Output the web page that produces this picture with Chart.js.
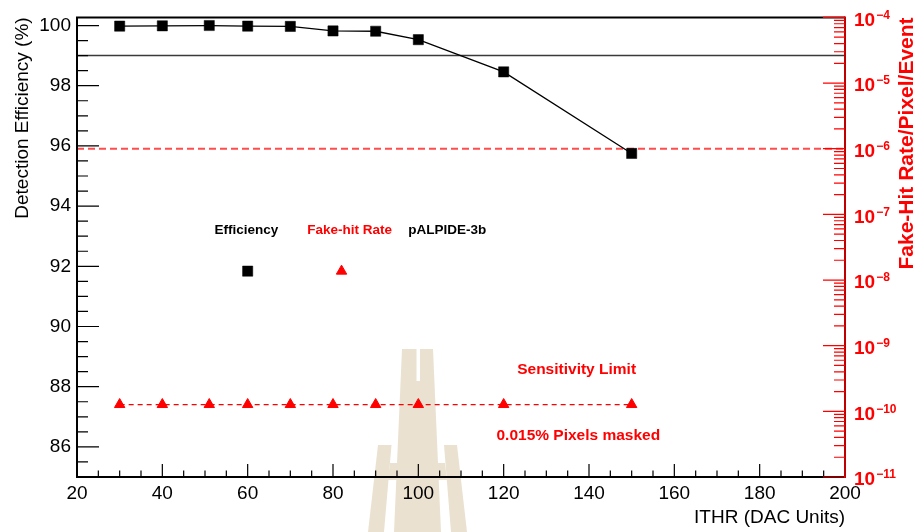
<!DOCTYPE html>
<html>
<head>
<meta charset="utf-8">
<title>pALPIDE-3b efficiency and fake-hit rate vs ITHR</title>
<script src="https://cdn.jsdelivr.net/npm/chart.js@4.4.1/dist/chart.umd.min.js"></script>
<style>
  html, body { margin: 0; padding: 0; background: #fff; }
  #chart { display: block; }
</style>
</head>
<body>
<canvas id="chart" width="919" height="532"></canvas>
<script>
// ITHR settings of the scan (DAC units)
const ithr = [30, 40, 51, 60, 70, 80, 90, 100, 120, 150];
// detection efficiency (%)
const efficiency = [99.98, 99.99, 100.0, 99.98, 99.97, 99.82, 99.81, 99.53, 98.46, 95.75];
// fake-hit rate per pixel per event, every point sits at the sensitivity limit
const fakeHitRate = [1.27e-10, 1.27e-10, 1.27e-10, 1.27e-10, 1.27e-10, 1.27e-10, 1.27e-10, 1.27e-10, 1.27e-10, 1.27e-10];

// axis ticks
const xTicks = [20, 40, 60, 80, 100, 120, 140, 160, 180, 200];
const effTicks = [86, 88, 90, 92, 94, 96, 98, 100];
const rateDecades = [-11, -10, -9, -8, -7, -6, -5, -4];

// reference levels
const effReference = 99;      // 99 % efficiency
const rateReference = 1e-6;   // 1e-6 fake hits / pixel / event

// legend markers (x in DAC units, y in %)
const legendSquare = [{ x: 60, y: 91.84 }];
const legendTriangle = [{ x: 82, y: 91.84 }];

const FONT = '"Liberation Sans", Arial, Helvetica, sans-serif';

// free text placed in data coordinates of x / y
const notes = [
  { text: 'Efficiency', x: 59.7, y: 93.21, color: '#000', size: 13.5 },
  { text: 'Fake-hit Rate', x: 83.9, y: 93.21, color: '#ff0000', size: 13.5 },
  { text: 'pALPIDE-3b', x: 106.8, y: 93.21, color: '#000', size: 13.5 },
  { text: 'Sensitivity Limit', x: 137.1, y: 88.58, color: '#ff0000', size: 15.5 },
  { text: '0.015% Pixels masked', x: 137.5, y: 86.38, color: '#ff0000', size: 15.5 }
];

// faint logo printed behind the plot
function drawWatermark(ctx) {
  ctx.fillStyle = 'rgb(234, 225, 209)';
  const shapes = [
    // central tower with the slit on top
    [[402, 349], [416.5, 349], [416.5, 381], [420, 381], [420, 349], [433, 349], [441, 532], [394, 532]],
    // side pillars
    [[378, 445], [391.5, 445], [384, 532], [368, 532]],
    [[444, 445], [457, 445], [467, 532], [451, 532]],
    // cross bars
    [[390, 463], [403, 463], [401, 480], [388, 480]],
    [[432, 463], [445, 463], [447, 480], [434, 480]]
  ];
  for (const s of shapes) {
    ctx.beginPath();
    ctx.moveTo(s[0][0], s[0][1]);
    for (let i = 1; i < s.length; i++) ctx.lineTo(s[i][0], s[i][1]);
    ctx.closePath();
    ctx.fill();
  }
}

const rootStyle = {
  id: 'rootStyle',
  beforeDraw(chart) {
    const ctx = chart.ctx;
    ctx.save();
    ctx.fillStyle = '#fff';
    ctx.fillRect(0, 0, chart.width, chart.height);
    drawWatermark(ctx);
    ctx.restore();
  },
  afterDraw(chart) {
    const { ctx, chartArea: a, scales: { x, y, y2 } } = chart;
    ctx.save();

    // frame
    ctx.lineWidth = 2;
    ctx.strokeStyle = '#000';
    ctx.beginPath();
    ctx.moveTo(a.right, a.top);
    ctx.lineTo(a.left, a.top);
    ctx.lineTo(a.left, a.bottom);
    ctx.lineTo(a.right, a.bottom);
    ctx.stroke();
    ctx.strokeStyle = '#c00000';
    ctx.beginPath();
    ctx.moveTo(a.right, a.top - 1);
    ctx.lineTo(a.right, a.bottom + 1);
    ctx.stroke();

    // inward ticks on the efficiency axis: major every 2, minor every 0.5
    ctx.lineWidth = 1.2;
    ctx.strokeStyle = '#000';
    ctx.beginPath();
    for (let i = 171; i <= 200; i++) {
      const v = i / 2;
      const py = y.getPixelForValue(v);
      const len = i % 4 === 0 ? 22 : 11;
      ctx.moveTo(a.left, py);
      ctx.lineTo(a.left + len, py);
    }
    // ticks on the ITHR axis: major every 20, minor every 5
    for (let v = 25; v < 200; v += 5) {
      const px = x.getPixelForValue(v);
      const len = v % 20 === 0 ? 13 : 6.5;
      ctx.moveTo(px, a.bottom);
      ctx.lineTo(px, a.bottom - len);
    }
    ctx.stroke();

    // logarithmic fake-hit axis on the right
    ctx.strokeStyle = '#ff0000';
    ctx.beginPath();
    for (const d of rateDecades) {
      for (let k = 1; k <= 9; k++) {
        if (d === -4 && k > 1) break;
        const py = y2.getPixelForValue(k * Math.pow(10, d));
        const len = k === 1 ? 22 : 11;
        ctx.moveTo(a.right, py);
        ctx.lineTo(a.right - len, py);
      }
    }
    ctx.stroke();

    ctx.fillStyle = '#ff0000';
    ctx.textAlign = 'left';
    ctx.textBaseline = 'middle';
    for (const d of rateDecades) {
      const py = y2.getPixelForValue(Math.pow(10, d));
      ctx.font = `bold 19px ${FONT}`;
      ctx.fillText('10', a.right + 9, py + 3);
      const w = ctx.measureText('10').width;
      ctx.font = `bold 12px ${FONT}`;
      ctx.fillText('\u2212' + (-d), a.right + 10 + w, py - 2);
    }

    // right axis title, reading upwards from the top end
    ctx.save();
    ctx.translate(907, a.top);
    ctx.rotate(-Math.PI / 2);
    ctx.font = `bold 21px ${FONT}`;
    ctx.textAlign = 'right';
    ctx.textBaseline = 'middle';
    ctx.fillText('Fake-Hit Rate/Pixel/Event', 0, 0);
    ctx.restore();

    // labels inside the frame
    ctx.textAlign = 'center';
    ctx.textBaseline = 'middle';
    for (const n of notes) {
      ctx.font = `bold ${n.size}px ${FONT}`;
      ctx.fillStyle = n.color;
      ctx.fillText(n.text, x.getPixelForValue(n.x), y.getPixelForValue(n.y));
    }
    ctx.restore();
  }
};

const toPoints = (xs, ys) => xs.map((v, i) => ({ x: v, y: ys[i] }));

new Chart(document.getElementById('chart'), {
  type: 'line',
  data: {
    datasets: [
      {
        label: 'Efficiency',
        data: toPoints(ithr, efficiency),
        yAxisID: 'y',
        borderColor: '#000',
        borderWidth: 1.3,
        pointStyle: 'rect',
        pointRadius: 7.2,
        pointBackgroundColor: '#000',
        pointBorderColor: '#000',
        pointBorderWidth: 0.5
      },
      {
        label: 'Fake-hit Rate',
        data: toPoints(ithr, fakeHitRate),
        yAxisID: 'y2',
        borderColor: '#ff0000',
        borderWidth: 1.3,
        borderDash: [5, 4],
        pointStyle: 'triangle',
        pointRadius: 6,
        pointBackgroundColor: '#ff0000',
        pointBorderColor: '#ff0000',
        pointBorderWidth: 1
      },
      {
        label: 'Efficiency marker',
        data: legendSquare,
        yAxisID: 'y',
        showLine: false,
        pointStyle: 'rect',
        pointRadius: 7.2,
        pointBackgroundColor: '#000',
        pointBorderColor: '#000',
        pointBorderWidth: 0.5
      },
      {
        label: 'Fake-hit marker',
        data: legendTriangle,
        yAxisID: 'y',
        showLine: false,
        pointStyle: 'triangle',
        pointRadius: 6,
        pointBackgroundColor: '#ff0000',
        pointBorderColor: '#ff0000',
        pointBorderWidth: 1
      },
      {
        label: '99 %',
        data: [{ x: 20, y: effReference }, { x: 200, y: effReference }],
        yAxisID: 'y',
        borderColor: '#3a3a3a',
        borderWidth: 1.5,
        pointRadius: 0
      },
      {
        label: '1e-6',
        data: [{ x: 20, y: rateReference }, { x: 200, y: rateReference }],
        yAxisID: 'y2',
        borderColor: 'rgba(255, 0, 0, 0.7)',
        borderWidth: 2,
        borderDash: [7, 4],
        pointRadius: 0
      }
    ]
  },
  options: {
    responsive: false,
    animation: false,
    layout: { padding: { top: 15, right: 74, bottom: 0, left: 0 } },
    plugins: {
      legend: { display: false },
      tooltip: { enabled: false }
    },
    scales: {
      x: {
        type: 'linear',
        position: 'bottom',
        min: 20,
        max: 200,
        bounds: 'data',
        afterBuildTicks: s => { s.ticks = xTicks.map(v => ({ value: v })); },
        afterFit: s => { s.height = 55; },
        grid: { display: false, drawTicks: false },
        border: { display: false },
        ticks: { padding: 5, color: '#000', autoSkip: false, maxRotation: 0, font: { family: FONT, size: 19 } },
        title: {
          display: true, text: 'ITHR (DAC Units)', align: 'end', color: '#000',
          font: { family: FONT, size: 19 }, padding: { top: 0, bottom: 3 }
        }
      },
      y: {
        type: 'linear',
        position: 'left',
        min: 85,
        max: 100.27,
        bounds: 'data',
        afterBuildTicks: s => { s.ticks = effTicks.map(v => ({ value: v })); },
        afterFit: s => { s.width = 77; },
        grid: { display: false, drawTicks: false },
        border: { display: false },
        ticks: { padding: 6, color: '#000', autoSkip: false, font: { family: FONT, size: 19 } },
        title: {
          display: true, text: 'Detection Efficiency (%)', align: 'end', color: '#000',
          font: { family: FONT, size: 19 }, padding: { top: 11, bottom: 0 }
        }
      },
      y2: {
        type: 'logarithmic',
        position: 'right',
        min: 1e-11,
        max: 1e-4,
        bounds: 'data',
        display: false
      }
    }
  },
  plugins: [rootStyle]
});
</script>
</body>
</html>
